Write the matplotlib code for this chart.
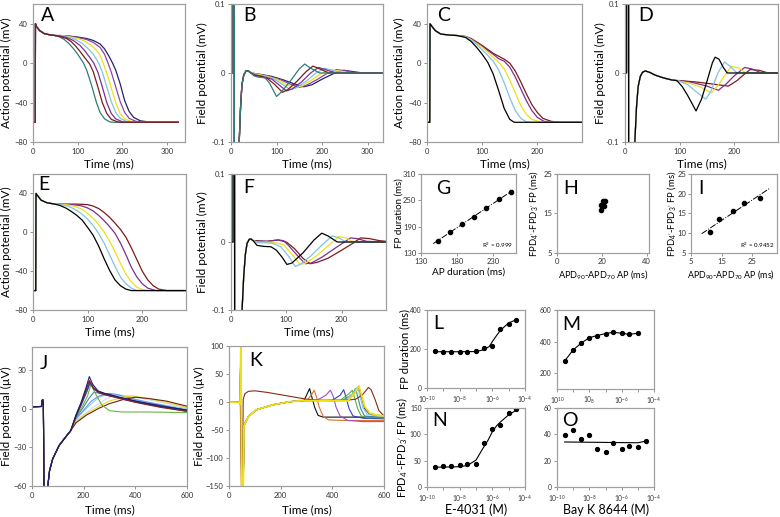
import matplotlib
matplotlib.use("Agg")
import matplotlib.pyplot as plt
import numpy as np

plt.rcParams["font.family"] = ["Lato", "DejaVu Sans"]
plt.rcParams["mathtext.default"] = "regular"

# ---------------- data ----------------
# A: action potentials (mV) vs time (ms); shared upstroke + per-trace repolarisation
a_start = [(0, -60), (5, -60), (5.5, 40), (8, 37), (15, 33), (25, 30), (40, 28.5), (50, 28)]
a_teal = [(60, 26.5), (70, 24), (80, 20), (90, 15), (100, 9), (113, 0), (120, -7), (130, -21),
          (142, -40), (150, -50), (160, -56.5), (172, -59.7), (185, -60), (325, -60)]
a_maroon = [(60, 27), (75, 25), (85, 22), (95, 17.5), (105, 12), (115, 6), (127, -1), (135, -9),
            (145, -24), (155, -40), (165, -51), (175, -57), (190, -59.7), (200, -60), (325, -60)]
a_purple = [(60, 27.5), (75, 26), (90, 23), (105, 18), (115, 13), (125, 7), (136, 0), (145, -9),
            (155, -24), (165, -40), (175, -51), (185, -56.5), (200, -59.5), (210, -60), (325, -60)]
a_lblue = [(60, 28), (80, 26.5), (95, 24), (110, 20), (125, 14), (135, 9), (147, 0), (155, -9),
           (165, -24), (175, -39), (185, -50), (195, -56), (210, -59.3), (225, -60), (325, -60)]
a_yellow = [(60, 28), (80, 27), (100, 25), (115, 22.5), (130, 18), (140, 14), (150, 8), (157, 0),
            (165, -10), (175, -25), (185, -40), (195, -51), (205, -56.5), (220, -59.3), (240, -60), (325, -60)]
a_violet = [(60, 28), (80, 27.5), (100, 26), (120, 24), (135, 21), (150, 16), (160, 9), (168, 0),
            (175, -9), (185, -24), (195, -39), (205, -50), (215, -56), (230, -59), (250, -60), (325, -60)]
a_navy = [(60, 28), (80, 27.5), (100, 26.5), (120, 25), (135, 23), (150, 19.5), (160, 14.5), (170, 7),
          (178, 0), (185, -7), (195, -21), (205, -38), (215, -49), (225, -55), (240, -58.5),
          (260, -59.7), (285, -60), (325, -60)]

# B: field potentials (mV)
b_start = [(0, 0), (4.4, 0), (4.6, 0.3), (7.2, 0.3), (7.4, -0.3), (16, -0.3), (18, -0.1), (21, -0.05),
           (24, -0.017), (28, -0.003), (33, 0.003), (38, 0.003), (44, 0.0)]
b_teal = [(50, -0.004), (60, -0.006), (75, -0.007), (85, -0.015), (100, -0.034), (110, -0.028),
          (130, -0.012), (150, 0.006), (162, 0.013), (175, 0.007), (195, 0.0), (335, 0.0)]
b_maroon = [(50, -0.003), (65, -0.005), (80, -0.008), (95, -0.016), (113, -0.028), (125, -0.024),
            (145, -0.012), (165, 0.002), (180, 0.010), (195, 0.006), (215, 0.0), (335, 0.0)]
b_purple = [(55, -0.003), (70, -0.005), (90, -0.009), (105, -0.017), (122, -0.026), (135, -0.023),
            (155, -0.013), (175, 0.0), (192, 0.008), (207, 0.005), (230, 0.0), (335, 0.0)]
b_lblue = [(55, -0.003), (75, -0.005), (95, -0.009), (112, -0.016), (130, -0.024), (145, -0.021),
           (165, -0.012), (185, -0.001), (205, 0.007), (222, 0.004), (245, 0.0), (335, 0.0)]
b_yellow = [(60, -0.002), (80, -0.005), (100, -0.009), (120, -0.016), (140, -0.022), (155, -0.019),
            (175, -0.011), (198, -0.001), (218, 0.005), (238, 0.003), (260, 0.0), (335, 0.0)]
b_violet = [(60, -0.002), (85, -0.005), (110, -0.010), (130, -0.016), (150, -0.021), (165, -0.018),
            (188, -0.010), (210, -0.001), (232, 0.005), (252, 0.003), (275, 0.0), (335, 0.0)]
b_navy = [(65, -0.002), (90, -0.005), (115, -0.010), (140, -0.016), (160, -0.020), (178, -0.017),
          (200, -0.009), (225, -0.001), (248, 0.004), (268, 0.002), (290, 0.0), (335, 0.0)]

# C: action potentials (mV)
c_start = [(0, -60), (5, -60), (5.5, 40), (8, 38), (15, 33), (25, 29.5), (40, 28.5), (55, 28)]
c_black = [(70, 26), (80, 22), (90, 16), (100, 9), (110, 1), (120, -11), (130, -28), (140, -46),
           (150, -57), (158, -60), (280, -60)]
c_lblue = [(70, 26.5), (80, 23.5), (90, 19), (100, 13.5), (110, 8), (120, 2), (130, -7), (140, -20),
           (150, -35), (160, -48), (170, -56), (180, -59.5), (190, -60), (280, -60)]
c_yellow = [(70, 26.5), (80, 24), (90, 20), (100, 16), (110, 11), (120, 6), (130, 1), (140, -6),
            (150, -17), (160, -30), (170, -43), (180, -52), (190, -57), (205, -59.5), (215, -60), (280, -60)]
c_purple = [(70, 27), (80, 24.5), (90, 21), (100, 17.5), (110, 13), (120, 9), (130, 4.5), (140, 2),
            (150, -4), (160, -14), (170, -26), (180, -38), (190, -48), (200, -55), (212, -59), (228, -60), (280, -60)]
c_maroon = [(70, 27), (80, 25), (90, 21.5), (100, 18), (110, 14), (120, 10), (130, 7), (140, 4),
            (150, 0), (160, -8), (170, -19), (180, -31), (190, -42), (200, -50), (210, -56),
            (225, -59), (240, -60), (280, -60)]

# D: field potentials (mV)
d_start = [(0, 0), (2.8, 0), (3.0, 0.3), (6.5, 0.3), (6.7, -0.3), (15, -0.3), (18, -0.1), (21, -0.05),
           (24, -0.02), (28, -0.005), (32, 0.001), (37, 0.003), (45, 0.001), (55, -0.003),
           (70, -0.007), (85, -0.010), (95, -0.011)]
d_black = [(105, -0.02), (115, -0.033), (130, -0.055), (140, -0.038), (150, -0.012), (160, 0.015),
           (165, 0.023), (172, 0.020), (180, 0.008), (187, 0.0), (280, 0.0)]
d_lblue = [(100, -0.012), (115, -0.017), (130, -0.027), (148, -0.038), (158, -0.025), (170, 0.0),
           (182, 0.016), (192, 0.010), (205, 0.0), (280, 0.0)]
d_yellow = [(100, -0.012), (120, -0.015), (140, -0.021), (158, -0.029), (170, -0.018), (183, -0.003),
            (195, 0.010), (208, 0.007), (222, 0.0), (280, 0.0)]
d_purple = [(100, -0.011), (125, -0.014), (150, -0.019), (171, -0.025), (185, -0.016), (200, -0.004),
            (219, 0.008), (232, 0.006), (250, 0.0), (280, 0.0)]
d_maroon = [(100, -0.011), (130, -0.013), (160, -0.016), (189, -0.019), (205, -0.011), (218, -0.002),
            (229, 0.005), (245, 0.004), (262, 0.0), (280, 0.0)]

# E: action potentials (mV)
e_start = [(0, -60), (5, -60), (5.5, 40), (8, 38), (15, 33), (25, 30.5), (40, 29)]
e_black = [(50, 27.5), (60, 25), (70, 21.5), (80, 17.5), (90, 12.5), (100, 5), (110, -3), (120, -14),
           (130, -27), (140, -39), (150, -49), (160, -55), (170, -58.5), (180, -60), (280, -60)]
e_lblue = [(50, 28.5), (60, 27.5), (70, 25.5), (80, 22.5), (90, 18.5), (100, 13.5), (110, 7), (120, -1),
           (130, -11), (140, -23), (150, -35), (160, -46), (170, -53), (180, -57.5), (190, -60), (280, -60)]
e_yellow = [(60, 28.5), (70, 27.5), (80, 26), (90, 23.5), (100, 19.5), (110, 14.5), (120, 8), (130, 0.5),
            (140, -9), (150, -20), (160, -32), (170, -43), (180, -51), (190, -56.5), (200, -59),
            (210, -60), (280, -60)]
e_purple = [(70, 28.5), (80, 28), (90, 27), (100, 25), (110, 22), (120, 17.5), (130, 12), (140, 6),
            (150, -1), (160, -11), (170, -23), (180, -36), (190, -46), (200, -53), (210, -57.5),
            (225, -60), (280, -60)]
e_maroon = [(80, 29), (100, 28.5), (110, 27), (120, 24.5), (130, 20.5), (140, 15.5), (150, 9.5),
            (160, 3), (170, -5), (180, -16), (190, -28), (200, -40), (210, -49), (220, -55),
            (230, -58.5), (245, -60), (280, -60)]

# F: field potentials (mV)
f_start = [(0, 0), (3.6, 0), (3.8, 0.3), (6.4, 0.3), (6.6, -0.3), (17, -0.3), (20, -0.1), (23, -0.05),
           (26, -0.018), (29, -0.002), (33, 0.004), (36, 0.0045), (40, 0.002)]
f_black = [(47, -0.005), (60, -0.0065), (72, -0.007), (82, -0.012), (92, -0.022), (101, -0.033),
           (110, -0.031), (130, -0.016), (150, 0.003), (164, 0.013), (175, 0.009), (192, 0.0), (280, 0.0)]
f_lblue = [(47, -0.001), (60, -0.001), (75, -0.002), (90, -0.007), (105, -0.022), (116, -0.036),
           (125, -0.033), (145, -0.020), (165, -0.004), (183, 0.009), (195, 0.006), (208, 0.0), (280, 0.0)]
f_yellow = [(47, 0.0), (65, 0.0), (80, -0.001), (95, -0.004), (110, -0.018), (125, -0.033),
            (135, -0.031), (155, -0.020), (175, -0.006), (195, 0.008), (208, 0.006), (222, 0.0), (280, 0.0)]
f_purple = [(47, 0.001), (65, 0.001), (85, 0.003), (95, 0.002), (105, -0.006), (120, -0.020),
            (134, -0.032), (145, -0.031), (165, -0.022), (190, -0.008), (216, 0.006), (228, 0.005),
            (245, 0.001), (280, 0.0)]
f_maroon = [(47, 0.002), (65, 0.001), (85, 0.003), (100, 0.0), (115, -0.010), (130, -0.024),
            (143, -0.032), (155, -0.030), (175, -0.024), (200, -0.012), (220, -0.002), (234, 0.006),
            (250, 0.005), (268, 0.002), (280, 0.001)]

# G: FP duration vs AP duration (ms)
g_apd = [153, 170, 187, 204, 221, 238, 255]
g_fpd = [158, 177, 195, 213, 233, 253, 269]
g_fit_x = [147, 258]

# H and I: FPD4'-FPD3' FP vs APD90-APD70 AP (ms)
h_apd = [19.4, 19.8, 20.4, 21.0, 21.6]
h_fpd = [17.1, 16.0, 18.2, 16.9, 18.2]
i_apd = [11.2, 14.1, 18.6, 22.4, 27.5]
i_fpd = [10.2, 13.6, 15.6, 17.7, 19.0]
i_fit_x = [8.5, 30.7]

# J: field potentials (uV)
j_start = [(0, 1.5), (37, 1.8), (39, 6.5), (42, 7), (44, 3), (47, -75), (57, -75), (60, -62),
           (68, -48), (80, -39), (105, -28.5), (130, -22), (150, -17)]
j_navy = [(170, -5), (190, 5), (210, 17), (222, 25), (235, 19), (255, 14), (280, 12), (320, 10),
          (400, 6), (500, 2), (600, -1)]
j_darkred = [(170, -5), (190, 4), (210, 15), (222, 22), (235, 17), (255, 13), (280, 11), (320, 9),
             (400, 5), (500, 1), (600, -2)]
j_royal = [(170, -6), (190, 3), (212, 13), (225, 20), (240, 15), (265, 12), (300, 10), (350, 8),
           (450, 4), (600, -1)]
j_green = [(170, -7), (190, 0), (215, 10), (228, 19), (245, 12), (270, 3), (300, -1.5), (350, -2.5),
           (450, -2.5), (600, -3)]
j_steel = [(170, -7), (195, 0), (220, 8), (240, 13), (260, 12), (290, 11), (330, 9), (420, 5), (600, -1)]
j_lblue = [(170, -8), (200, -2), (230, 4), (260, 9), (290, 11), (320, 11), (370, 9), (450, 5), (600, 0)]
j_cornflower = [(170, -8), (200, -1), (230, 6), (260, 10), (300, 12), (330, 11), (400, 7), (500, 3),
                (600, -1.5)]
j_pale = [(170, -9), (210, -3), (250, 3), (290, 8), (330, 11), (380, 10), (450, 7), (600, 1)]
j_yellow = [(170, -10), (210, -4), (260, 2), (300, 6), (350, 9), (390, 10), (450, 8), (520, 5), (600, 1)]
j_brown = [(170, -11), (210, -5), (260, 0.5), (300, 4), (350, 7), (400, 9), (450, 8), (520, 6), (600, 2)]
j_dblue = [(170, -6), (192, 4), (212, 14), (224, 21), (238, 16), (260, 13), (300, 11), (360, 7),
           (460, 3), (600, -2)]

# K: field potentials (uV)
k_start = [(0, 0), (40, -0.5), (43, -4), (46, 110), (49, -160), (55, -160), (58, -42), (65, -35),
           (75, -26), (105, -14), (170, -5), (235, 0.5), (285, 2.5)]
k_black = [(292, 4), (304, 16), (312, 24), (320, 10), (332, -10), (345, -24), (365, -27), (450, -27), (600, -27)]
k_orange = [(302, 3), (318, 12), (330, 21), (338, 10), (350, -10), (365, -26), (385, -32), (450, -33), (600, -33)]
k_purple = [(340, 3), (375, 12), (392, 21), (402, 12), (415, -10), (430, -25), (460, -33), (520, -35), (600, -35)]
k_blue = [(400, 3), (430, 12), (444, 22), (452, 10), (465, -12), (480, -25), (520, -29), (600, -30)]
k_green = [(430, 3), (465, 15), (477, 21), (486, 8), (498, -12), (512, -25), (540, -28), (600, -28)]
k_teal = [(440, 3), (478, 14), (490, 24), (498, 10), (510, -12), (525, -25), (600, -28)]
k_lblue = [(450, 3), (485, 18), (497, 27), (506, 12), (518, -10), (535, -22), (570, -25), (600, -26)]
k_navy = [(460, 3), (490, 18), (503, 26), (512, 10), (525, -12), (545, -22), (600, -25)]
k_yellow = [(460, 2), (490, 18), (503, 29), (512, 14), (525, -8), (545, -20), (580, -24), (600, -25)]
k_brown = [(0, 0), (40, 0), (44, -5), (48, -150), (52, -150), (55, 5), (62, 15), (75, 19), (100, 20),
           (150, 17), (200, 13), (250, 9), (300, 5), (350, 3), (400, 2), (450, 3), (490, 5), (515, 12),
           (540, 26), (550, 22), (565, 5), (580, -15), (600, -25)]

# L-O: concentration responses
conc = [3e-10, 1e-9, 3e-9, 1e-8, 3e-8, 1e-7, 3e-7, 1e-6, 3e-6, 1e-5, 3e-5]
l_fpd = [189, 187, 185, 184, 184, 190, 204, 216, 303, 328, 350]
l_fit_conc = [3e-10, 1e-8, 1e-7, 3e-7, 6.5e-7, 1e-6, 1.75e-6, 3e-6, 5.6e-6, 1e-5, 3e-5]
l_fit = [186, 186, 187, 196, 213, 238, 267, 294, 315, 334, 350]
m_conc = [3e-10, 1e-9, 3e-9, 1e-8, 3e-8, 1e-7, 3e-7, 1e-6, 3e-6, 1e-5]
m_fpd = [278, 347, 389, 425, 438, 451, 459, 453, 446, 453]
n_dfpd = [38, 39.5, 39.5, 41, 44.5, 44.5, 84, 111, 117, 140, 147.5]
n_fit_conc = [3e-10, 1e-8, 3e-8, 1e-7, 2e-7, 3e-7, 5.5e-7, 1e-6, 1.8e-6, 3e-6, 1e-5, 3e-5]
n_fit = [37.5, 38.5, 41, 51, 67, 76, 89, 105, 116, 123, 137, 146]
o_dfpd = [39.5, 43.3, 36.2, 39.5, 29.0, 26.7, 33.6, 29.0, 31.3, 30.5, 34.8]
o_line_conc = [3e-10, 1e-5, 3e-5]
o_line = [34.2, 33.6, 34.8]

# ---------------- drawing ----------------
W, H = 780, 517
GRAY = "#a0a0a0"
TEAL, MAROON, PURPLE = "#2f7c79", "#7a1c1c", "#7e2f8e"
LBLUE, YELLOW, VIOLET, NAVY = "#7fc4e2", "#efe01c", "#8d45a8", "#232370"

fig = plt.figure(figsize=(W / 100, H / 100), dpi=100)


def panel(l, t, r, b):
    ax = fig.add_axes([l / W, 1 - b / H, (r - l) / W, (b - t) / H])
    ax.px = (l, t, r, b)
    for s in ax.spines.values():
        s.set_color(GRAY)
        s.set_linewidth(0.9)
    ax.tick_params(direction="out", length=2.5, width=0.6, color="#808080",
                   labelsize=5.5, labelcolor="#333333", pad=1.5)
    return ax


def trace(ax, pts, color, lw=0.9):
    t, v = zip(*pts)
    ax.plot(t, v, color=color, lw=lw, solid_joinstyle="round")


def letter(ax, s, x, y):
    ax.text(x, y, s, transform=ax.transAxes, fontsize=14, ha="left", va="top")


def ylab(ax, s, cx, size=8.5):
    l, t, r, b = ax.px
    ax.set_ylabel(s, fontsize=size)
    ax.yaxis.set_label_coords((cx + size * 0.55 - l) / (r - l), 0.5)


def xlab(ax, s, cy, size=8.5):
    l, t, r, b = ax.px
    ax.set_xlabel(s, fontsize=size)
    ax.xaxis.set_label_coords(0.5, -(cy - size * 0.62 - b) / (b - t))


# A
ax = panel(33, 4, 185, 142)
for pts, c in [(a_navy, NAVY), (a_violet, VIOLET), (a_yellow, YELLOW), (a_lblue, LBLUE),
               (a_purple, PURPLE), (a_teal, TEAL), (a_maroon, MAROON)]:
    trace(ax, a_start + pts, c)
ax.set_xlim(0, 340)
ax.set_ylim(-80, 60)
ax.set_xticks([0, 100, 200, 300])
ax.set_yticks([-80, -40, 0, 40])
ylab(ax, "Action potential (mV)", 7)
xlab(ax, "Time (ms)", 164)
letter(ax, "A", 0.055, 0.975)

# B
ax = panel(231, 4, 383, 142)
for pts, c in [(b_navy, NAVY), (b_violet, VIOLET), (b_yellow, YELLOW), (b_lblue, LBLUE),
               (b_purple, PURPLE), (b_maroon, MAROON), (b_teal, TEAL)]:
    trace(ax, b_start + pts, c)
ax.set_xlim(0, 334)
ax.set_ylim(-0.1, 0.1)
ax.set_xticks([0, 100, 200, 300])
ax.set_yticks([-0.1, 0, 0.1])
ax.set_yticklabels(["-0.1", "0", "0.1"])
ylab(ax, "Field potential (mV)", 203)
xlab(ax, "Time (ms)", 164)
letter(ax, "B", 0.08, 0.975)

# C
ax = panel(427, 4, 582, 142)
for pts, c in [(c_maroon, MAROON), (c_purple, PURPLE), (c_yellow, YELLOW), (c_lblue, LBLUE),
               (c_black, "black")]:
    trace(ax, c_start + pts, c)
ax.set_xlim(0, 281)
ax.set_ylim(-80, 60)
ax.set_xticks([0, 100, 200])
ax.set_yticks([-80, -40, 0, 40])
ylab(ax, "Action potential (mV)", 400)
xlab(ax, "Time (ms)", 164)
letter(ax, "C", 0.063, 0.975)

# D
ax = panel(625, 4, 778, 142)
for pts, c in [(d_maroon, MAROON), (d_purple, PURPLE), (d_yellow, YELLOW), (d_lblue, LBLUE),
               (d_black, "black")]:
    trace(ax, d_start + pts, c)
ax.set_xlim(0, 280)
ax.set_ylim(-0.1, 0.1)
ax.set_xticks([0, 100, 200])
ax.set_yticks([-0.1, 0, 0.1])
ax.set_yticklabels(["-0.1", "0", "0.1"])
ylab(ax, "Field potential (mV)", 601)
xlab(ax, "Time (ms)", 164)
letter(ax, "D", 0.087, 0.975)

# E
ax = panel(33, 174, 186, 310)
for pts, c in [(e_maroon, MAROON), (e_purple, PURPLE), (e_yellow, YELLOW), (e_lblue, LBLUE),
               (e_black, "black")]:
    trace(ax, e_start + pts, c)
ax.set_xlim(0, 280)
ax.set_ylim(-80, 60)
ax.set_xticks([0, 100, 200])
ax.set_yticks([-80, -40, 0, 40])
ylab(ax, "Action potential (mV)", 7)
xlab(ax, "Time (ms)", 332)
letter(ax, "E", 0.035, 0.985)

# F
ax = panel(231, 174, 386, 310)
for pts, c in [(f_maroon, MAROON), (f_purple, PURPLE), (f_yellow, YELLOW), (f_lblue, LBLUE),
               (f_black, "black")]:
    trace(ax, f_start + pts, c)
ax.set_xlim(0, 280)
ax.set_ylim(-0.1, 0.1)
ax.set_xticks([0, 100, 200])
ax.set_yticks([-0.1, 0, 0.1])
ax.set_yticklabels(["-0.1", "0", "0.1"])
ylab(ax, "Field potential (mV)", 203)
xlab(ax, "Time (ms)", 332)
letter(ax, "F", 0.08, 0.965)

# G
ax = panel(421, 174, 516, 253)
k, c0 = np.polyfit(g_apd, g_fpd, 1)
ax.plot(g_fit_x, np.polyval([k, c0], g_fit_x), color="black", lw=0.7, ls="-.")
ax.plot(g_apd, g_fpd, "o", color="black", ms=3)
ax.set_xlim(130, 262)
ax.set_ylim(130, 310)
ax.set_xticks([130, 180, 230])
ax.set_yticks([130, 190, 250, 310])
ax.tick_params(pad=1)
ax.text(0.97, 0.04, "R$^2$ = 0.999", transform=ax.transAxes, fontsize=4.5, ha="right", va="bottom")
ylab(ax, "FP duration (ms)", 400, size=7)
xlab(ax, "AP duration (ms)", 272, size=7.2)
letter(ax, "G", 0.16, 0.93)

# H
ax = panel(557, 174, 649, 253)
ax.plot(h_apd, h_fpd, "o", color="black", ms=3)
ax.set_xlim(0, 41)
ax.set_ylim(5, 25)
ax.set_xticks([0, 20, 40])
ax.set_yticks([5, 15, 25])
ax.tick_params(pad=1)
ylab(ax, "FPD$_{4'}$-FPD$_{3'}$ FP (ms)", 536, size=6.8)
xlab(ax, "APD$_{90}$-APD$_{70}$ AP (ms)", 272, size=6.6)
letter(ax, "H", 0.07, 0.93)

# I
ax = panel(691, 174, 777, 253)
k, c0 = np.polyfit(i_apd, i_fpd, 1)
ax.plot(i_fit_x, np.polyval([k, c0], i_fit_x), color="black", lw=0.7, ls="-.")
ax.plot(i_apd, i_fpd, "o", color="black", ms=3)
ax.set_xlim(5, 33)
ax.set_ylim(5, 25)
ax.set_xticks([5, 15, 25])
ax.set_yticks([5, 10, 15, 20, 25])
ax.tick_params(pad=1)
ax.text(0.97, 0.04, "R$^2$ = 0.9452", transform=ax.transAxes, fontsize=4.5, ha="right", va="bottom")
ylab(ax, "FPD$_{4'}$-FPD$_{3'}$ FP (ms)", 674, size=6.8)
xlab(ax, "APD$_{90}$-APD$_{70}$ AP (ms)", 272, size=6.4)
ax.xaxis.set_label_coords(0.47, ax.xaxis.label.get_position()[1])
ax.xaxis.set_label_coords(0.47, -(272 - 6.4 * 0.62 - 253) / 79)
letter(ax, "I", 0.08, 0.93)

# J
ax = panel(32, 347, 187, 486)
for pts, c in [(j_pale, "#c4e0f2"), (j_lblue, "#9ccbe8"), (j_cornflower, "#6a95e0"),
               (j_steel, "#4a80b0"), (j_yellow, "#e8d820"), (j_brown, "#6e2012"),
               (j_green, "#6ab545"), (j_royal, "#2c55c0"), (j_dblue, "#2a3a8a"),
               (j_darkred, "#8b1c1c"), (j_navy, "#1c1c6a")]:
    trace(ax, j_start + pts, c, lw=0.8)
ax.set_xlim(0, 600)
ax.set_ylim(-60, 48)
ax.set_xticks([0, 200, 400, 600])
ax.set_yticks([-60, -30, 0, 30])
ylab(ax, "Field potential (\u00b5V)", 7)
xlab(ax, "Time (ms)", 510)
letter(ax, "J", 0.05, 0.945)

# K
ax = panel(229, 346, 384, 486)
for pts, c in [(k_black, "#111111"), (k_orange, "#e0702c"), (k_purple, "#9b4fc0"),
               (k_blue, "#2f3fc0"), (k_green, "#5cb040"), (k_teal, "#3a8a9a"),
               (k_navy, "#1e1e70"), (k_lblue, "#86c8ea")]:
    trace(ax, k_start + pts, c, lw=0.8)
trace(ax, k_brown, "#8a2a14", lw=0.8)
trace(ax, k_start + k_yellow, "#f0e010", lw=1.3)
ax.set_xlim(0, 600)
ax.set_ylim(-150, 100)
ax.set_xticks([0, 200, 400, 600])
ax.set_yticks([-150, -100, -50, 0, 50, 100])
ylab(ax, "Field potential (\u00b5V)", 200)
xlab(ax, "Time (ms)", 510)
letter(ax, "K", 0.13, 0.955)

# L-O
decades = [1e-10, 1e-9, 1e-8, 1e-7, 1e-6, 1e-5, 1e-4]
std_labels = ["10$^{-10}$", "", "10$^{-8}$", "", "10$^{-6}$", "", "10$^{-4}$"]


def logaxis(ax, labels):
    ax.set_xscale("log")
    ax.set_xlim(1e-10, 1e-4)
    ax.set_xticks(decades)
    ax.set_xticklabels(labels)
    ax.xaxis.set_minor_locator(matplotlib.ticker.NullLocator())
    ax.tick_params(labelsize=4.8)


ax = panel(427, 310, 525, 388)
ax.plot(l_fit_conc, l_fit, color="black", lw=0.8)
ax.plot(conc, l_fpd, "o", color="black", ms=2.8)
logaxis(ax, std_labels)
ax.set_ylim(0, 400)
ax.set_yticks([0, 200, 400])
ylab(ax, "FP duration (ms)", 406, size=8)
letter(ax, "L", 0.06, 0.93)

ax = panel(557, 310, 654, 389)
ax.plot(m_conc, m_fpd, "o-", color="black", ms=2.8, lw=0.8)
logaxis(ax, ["10$^{10}$", "", "10$_{8}$", "", "10$^{-6}$", "", "10$^{-4}$"])
ax.set_ylim(100, 600)
ax.set_yticks([200, 400, 600])
letter(ax, "M", 0.05, 0.93)

ax = panel(427, 408, 525, 487)
ax.plot(n_fit_conc, n_fit, color="black", lw=0.8)
ax.plot(conc, n_dfpd, "o", color="black", ms=2.8)
logaxis(ax, std_labels)
ax.set_ylim(0, 150)
ax.set_yticks([0, 50, 100, 150])
ylab(ax, "FPD$_{4'}$-FPD$_{3'}$ FP (ms)", 406, size=8)
letter(ax, "N", 0.05, 0.955)

ax = panel(557, 408, 654, 487)
ax.plot(o_line_conc, o_line, color="black", lw=0.8)
ax.plot(conc, o_dfpd, "o", color="black", ms=2.8)
logaxis(ax, std_labels)
ax.set_ylim(0, 60)
ax.set_yticks([0, 20, 40, 60])
letter(ax, "O", 0.05, 0.955)

fig.text(476 / W, 1 - 510 / H, "E-4031 (M)", fontsize=9, ha="center", va="center")
fig.text(606 / W, 1 - 510 / H, "Bay K 8644 (M)", fontsize=9, ha="center", va="center")

fig.savefig("out.png", dpi=100)
